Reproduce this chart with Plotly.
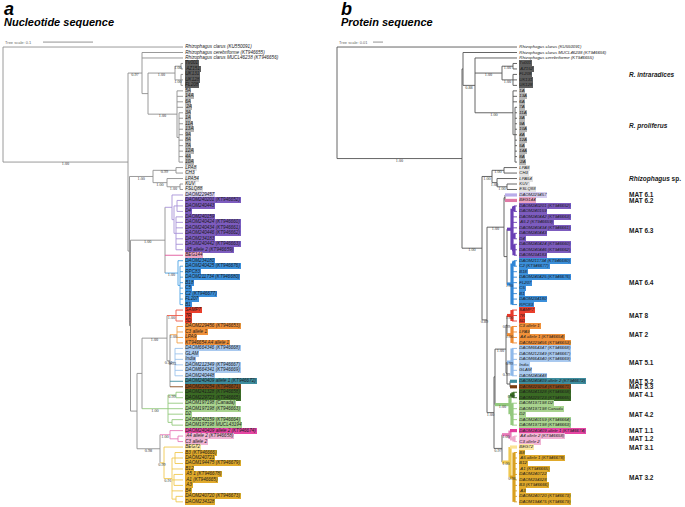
import plotly.graph_objects as go

# ---------------- data ----------------
SCALE_A = 0.1    # tree scale bar, panel a (substitutions/site)
SCALE_B = 0.01   # tree scale bar, panel b

LEAVES_A = [
    "Rhizophagus clarus (KU550091)", "Rhizophagus cerebriforme (KT946655)",
    "Rhizophagus clarus MUCL46238 (KT946656)",
    "Tv001", "AZ151", "UK131", "UK128", "FL208",
    "5A", "14A", "6A", "2A", "3A", "1A", "11A", "13A", "9A", "8A", "7A", "12A", "4A", "10A",
    "LPA8", "CH3", "LPA54", "KUV", "FSLQ88",
    "DAOM229457", "DAOM240201 (KT946652)", "DAOM240443", "D4", "DAOM240159",
    "DAOM240424 (KT946660)", "DAOM240434 (KT946661)", "DAOM240446 (KT946662)", "DAOM234183",
    "DAOM240442 (KT946663)", "A5 allele 2 (KT946659)",
    "BEG144",
    "DAOM234180", "DAOM240425 (KT946676)", "RPC83", "DAOM211734 (KT946680)", "B18", "C5",
    "C2 (KT946677)", "FL207", "B1",
    "SAMP7", "7R", "5D",
    "DAOM229456 (KT946653)", "C3 allele 1", "LPA9", "KT946654 A4 allele 1",
    "DAOM664346 (KT946668)", "GLAM", "India", "DAOM212349 (KT946667)", "DAOM664341 (KT946669)",
    "DAOM240448",
    "DAOM240409 allele 1 (KT946672)", "DAOM229254 (KT946671)",
    "DAOM241328 (KT946658)", "DAOM229723 (KT946665)",
    "DAOM197198 (Canada)", "DAOM197198 (KT946663)", "D2", "DAOM240159 (KT946664)",
    "DAOM197198 MUCL43194",
    "DAOM240409 allele 2 (KT946674)", "A4 allele 2 (KT946658)", "C3 allele 2",
    "BEG72",
    "B3 (KT946666)", "DAOM240721", "DAOM194475 (KT946679)", "B12", "A5 1 (KT946678)",
    "A1 (KT946665)", "A3", "B4", "DAOM240720 (KT946673)", "DAOM234328",
]

LEAVES_B = [
    "Rhizophagus clarus (KU550091)", "Rhizophagus clarus MUCL46238 (KT946656)",
    "Rhizophagus cerebriforme (KT946655)",
    "Tv001", "AZ152", "FL208", "UK131", "UK128",
    "1A", "13A", "6A", "7A", "11A", "3A", "9A", "10A", "4A", "12A", "5A", "14A", "8A", "2A",
    "LPA8", "CH3", "LPA54", "KUV", "ESLQ88",
    "DAOM229457", "BEG144",
    "DAOM240201 (KT946652)", "DAOM240159", "DAOM240442 (KT946663)", "A5 2 (KT946659)",
    "DAOM240434 (KT946661)", "DAOM240443", "D4", "DAOM240424 (KT946660)",
    "DAOM240446 (KT946662)", "DAOM234183",
    "DAOM211734 (KT946680)", "C2 (KT946677)", "B18", "DAOM240425 (KT946676)", "FL207", "C5",
    "B1", "DAOM234180", "RPC83",
    "SAMP7", "7R", "5D",
    "C3 allele 1", "LPA9", "A4 allele 1 (KT946654)", "DAOM229456 (KT946653)",
    "DAOM664347 (KT946668)", "DAOM212349 (KT946667)", "DAOM664340 (KT946669)", "India", "GLAM",
    "DAOM240448",
    "DAOM240409 allele 2 (KT946672)", "DAOM229254 (KT946671)",
    "DAOM241328 (KT946658)", "DAOM229723 (KT946665)",
    "DAOM197198 D2", "DAOM197198 Canada", "D2", "DAOM240159 (KT946664)", "DAOM197198 (KT946663)",
    "DAOM240409 allele 1 (KT946674)", "A4 allele 2 (KT946658)", "C3 allele 2",
    "BEG72",
    "B8", "A5 allele 1 (KT946678)", "B12", "A1 (KT946665)", "DAOM240722", "DAOM234328",
    "B3 (KT946666)", "A3", "DAOM240720 (KT946673)", "DAOM194475 (KT946679)",
]

GROUPS_A = (["out"] * 3 + ["intra"] * 5 + ["prolif"] * 14 + ["rsp"] * 5 + ["m61"] + ["m63"] * 10
            + ["m62"] + ["m64"] * 9 + ["m8"] * 3 + ["m2"] * 4 + ["m51"] * 6 + ["m52"] + ["m53"]
            + ["m41"] * 2 + ["m42"] * 5 + ["m11"] + ["m12"] * 2 + ["m31"] + ["m32"] * 10)
GROUPS_B = (["out"] * 3 + ["intra"] * 5 + ["prolif"] * 14 + ["rsp"] * 5 + ["m61"] + ["m62"]
            + ["m63"] * 10 + ["m64"] * 9 + ["m8"] * 3 + ["m2"] * 4 + ["m51"] * 6 + ["m52"] + ["m53"]
            + ["m41"] * 2 + ["m42"] * 5 + ["m11"] + ["m12"] * 2 + ["m31"] + ["m32"] * 10)

# label highlight colours
GROUP_BG = {
    "out": None, "intra": "#5e5e5e", "prolif": "#b4b4b4", "rsp": "#e3e3e3",
    "m61": "#d6cff0", "m62": "#eaa4c2", "m63": "#7d5cbf", "m64": "#3b8fda",
    "m8": "#ea3f2c", "m2": "#f0913a", "m51": "#a9c9ef", "m52": "#3f8d9e",
    "m53": "#8a4a18", "m41": "#3a6a24", "m42": "#a9d38f", "m11": "#e546a3",
    "m12": "#f1b4d4", "m31": "#fbe7a2", "m32": "#e0a92b",
}
FAMILY = {"m61": "purple", "m63": "purple", "m62": "pink", "m64": "blue", "m8": "red",
          "m2": "orange", "m51": "lblue", "m52": "teal", "m53": "brown", "m41": "green",
          "m42": "green", "m11": "magenta", "m12": "magenta", "m31": "yellow", "m32": "yellow"}
FAMILY_LINE = {"purple": "#a893d8", "pink": "#e0559a", "blue": "#4aa2e4", "red": "#ee5a48",
               "orange": "#f2a048", "lblue": "#9cc3ec", "teal": "#3f8d9e", "brown": "#8a4a18",
               "green": "#93c97d", "magenta": "#e87ab9", "yellow": "#f0c850"}
GROUP_LINE_B = {"m61": "#b9acea", "m62": "#e07aa6", "m63": "#6a3fb5", "m64": "#2f86d6",
                "m8": "#e8392a", "m2": "#ef8a30", "m51": "#8fb9ea", "m52": "#3f8d9e",
                "m53": "#7a3d10", "m41": "#356b20", "m42": "#93c97d", "m11": "#e23a9c",
                "m12": "#efa8cb", "m31": "#fbe393", "m32": "#d9a020"}

CLADE_LABELS_B = [
    ("<i>R. intraradices</i>", "intra"), ("<i>R. proliferus</i>", "prolif"),
    ("<i>Rhizophagus</i> sp.", "rsp"), ("MAT 6.1", "m61"), ("MAT 6.2", "m62"),
    ("MAT 6.3", "m63"), ("MAT 6.4", "m64"), ("MAT 8", "m8"), ("MAT 2", "m2"),
    ("MAT 5.1", "m51"), ("MAT 5.2", "m52"), ("MAT 5.3", "m53"), ("MAT 4.1", "m41"),
    ("MAT 4.2", "m42"), ("MAT 1.1", "m11"), ("MAT 1.2", "m12"), ("MAT 3.1", "m31"),
    ("MAT 3.2", "m32"),
]

# ---- panel a topology ('@' = next leaf of LEAVES_A), support values and branch lengths ----
A_INTRA = "((@:0.004,@:0.004)1.00:0.012,(@:0.004,@:0.004,@:0.004)1.00:0.012)1.00:0.054"
A_PROLIF = ("(@:0.012,@:0.012,@:0.012,@:0.012,(@:0.008,@:0.008,@:0.008,@:0.008,@:0.008,"
            "@:0.008,@:0.008,@:0.008,@:0.008,@:0.008):0.004)1.00:0.058")
A_RSP = "((@:0.014,@:0.014)0.99:0.046,(@:0.032,(@:0.006,@:0.006)1.00:0.026)1.00:0.028)1.00:0.047"
A_MAT6 = ("((@:0.022,((@:0.012,@:0.012,@:0.012):0.006,(@:0.014,@:0.014,@:0.014,@:0.014,@:0.014,"
          "@:0.014,@:0.014):0.004):0.004):0.014,@:0.036,(@:0.01,(@:0.006,@:0.006,@:0.006,@:0.006,"
          "@:0.006,@:0.006,@:0.006,@:0.006):0.004)1.00:0.026)1.00:0.069")
A_MAT825 = ("((@:0.014,@:0.014,@:0.014)1.00:0.018,((@:0.012,@:0.012,@:0.012,@:0.012)1.00:0.014,"
            "(@:0.016,@:0.016,@:0.016,@:0.016,@:0.016,@:0.016)0.93:0.01,@:0.026,@:0.026)0.94:0.006)1.00:0.05")
A_MAT4 = "((@:0.014,@:0.014)0.99:0.016,@:0.03,@:0.03,@:0.03,(@:0.022,@:0.022):0.008)1.00:0.052"
A_MAT13 = ("((@:0.026,(@:0.01,@:0.01):0.016)1.00:0.02,(@:0.038,((@:0.016,@:0.016,@:0.016):0.006,"
           "@:0.022,(@:0.018,@:0.018,@:0.018):0.004,@:0.022,(@:0.014,@:0.014):0.008)0.91:0.016)0.99:0.008)0.98:0.046")
TREE_A = (f"(@:0.36,((@:0.082,@:0.082,({A_INTRA},{A_PROLIF}):0.012)0.97:0.028,"
          f"({A_RSP},({A_MAT6},(({A_MAT825},{A_MAT4}):0.01,{A_MAT13}):0.013):0.002):0.003)1.00:0.25)")

# ---- panel b topology ----
B_INTRA = "((@:0.004,@:0.004)1.00:0.011,(@:0.004,@:0.004,@:0.004)1.00:0.011)1.00:0.027"
B_PROLIF = ("(@:0.004,@:0.004,@:0.004,(@:0.002,@:0.002,@:0.002,@:0.002,@:0.002,@:0.002,@:0.002,"
            "@:0.002,@:0.002,@:0.002,@:0.002):0.002)1.00:0.038")
B_RSP = "((@:0.013,@:0.013)1.00:0.012,(@:0.02,(@:0.01,@:0.01)1.00:0.01)1.00:0.005)1.00:0.01"
B_MAT6 = ("((@:0.012,@:0.012):0.001,(((@:0.003,@:0.003):0.002,@:0.005,@:0.005,@:0.005,"
          "(@:0.003,@:0.003):0.002,(@:0.003,@:0.003,@:0.003):0.002):0.005,((@:0.003,@:0.003):0.002,"
          "@:0.005,@:0.005,@:0.005,@:0.005,@:0.005,@:0.005,@:0.005)1.00:0.005):0.003)1.00:0.017")
B_MATMID = ("((((@:0.005,@:0.005,@:0.005)1.00:0.005,(@:0.005,@:0.005,@:0.005,@:0.005)1.00:0.005)0.99:0.001,"
            "((@:0.005,@:0.005,@:0.005,@:0.005,@:0.005,@:0.005)0.99:0.005,(@:0.007,@:0.007):0.003)0.99:0.001)1.00:0.011,"
            "((@:0.004,@:0.004)0.97:0.003,(@:0.005,@:0.005,@:0.005,@:0.005,@:0.005):0.002)1.00:0.015):0.001")
B_MAT13 = ("((@:0.007,(@:0.003,@:0.003):0.004)1.00:0.008,(@:0.007,(@:0.003,@:0.003,@:0.003,@:0.003,"
           "@:0.003,@:0.003,@:0.003,@:0.003,@:0.003,@:0.003)0.98:0.004)1.00:0.008)0.97:0.008")
TREE_B = (f"(@:0.18,((@:0.054,(@:0.042,{B_INTRA},{B_PROLIF})0.88:0.012):0.001,"
          f"({B_RSP},({B_MAT6},({B_MATMID},{B_MAT13})1.00:0.007)0.89:0.005)1.00:0.02)1.00:0.125)")


# ---------------- tree helpers ----------------
def parse_newick(text, names):
    s = "".join(text.split())
    pos = 0
    it = iter(names)

    def node():
        nonlocal pos
        n = {"kids": [], "len": 0.0, "sup": "", "name": None}
        if s[pos] == "(":
            pos += 1
            while True:
                n["kids"].append(node())
                c = s[pos]
                pos += 1
                if c == ")":
                    break
            st = pos
            while pos < len(s) and s[pos] not in ":,);":
                pos += 1
            n["sup"] = s[st:pos]
        else:
            pos += 1
            n["name"] = next(it)
        if pos < len(s) and s[pos] == ":":
            pos += 1
            st = pos
            while pos < len(s) and s[pos] not in ",);":
                pos += 1
            n["len"] = float(s[st:pos])
        return n

    return node()


def layout_tree(root, groups):
    nodes, leaves = [], []

    def rec(n, x0, parent):
        n["x"] = x0 + n["len"]
        n["parent"] = parent
        nodes.append(n)
        if n["kids"]:
            for k in n["kids"]:
                rec(k, n["x"], n)
            n["y"] = (n["kids"][0]["y"] + n["kids"][-1]["y"]) / 2
            n["groups"] = set().union(*[k["groups"] for k in n["kids"]])
        else:
            i = len(leaves)
            n["y"] = i
            n["groups"] = {groups[i]}
            leaves.append(n)

    rec(root, -root["len"], None)
    return nodes, leaves


def style(n, panel, groups):
    fams = {FAMILY.get(g) for g in n["groups"]}
    if len(fams) != 1 or None in fams:
        return ("#8e8e8e", 0.9) if panel == "a" else ("#555555", 0.9)
    fam = next(iter(fams))
    if panel == "a":
        return FAMILY_LINE[fam], 0.9
    if len(n["groups"]) == 1:
        g = next(iter(n["groups"]))
        col = GROUP_LINE_B[g]
    else:
        col = FAMILY_LINE[fam]
    thick = bool(n["kids"]) or groups.count(next(iter(n["groups"]))) == 1
    return col, (3.2 if thick else 0.9)


fig = go.Figure()
annotations = []

PANELS = [("a", TREE_A, LEAVES_A, GROUPS_A, "x", 4.6),
          ("b", TREE_B, LEAVES_B, GROUPS_B, "x2", 4.3)]

for panel, tree, names, groups, xa, fsize in PANELS:
    root = parse_newick(tree, names)
    nodes, leaves = layout_tree(root, groups)
    segs = {}
    for n in nodes:
        col, w = style(n, panel, groups)
        xs, ys = segs.setdefault((col, w), ([], []))
        if n["parent"] is not None:
            xs += [n["parent"]["x"], n["x"], None]
            ys += [n["y"], n["y"], None]
        if n["kids"]:
            xs += [n["x"], n["x"], None]
            ys += [n["kids"][0]["y"], n["kids"][-1]["y"], None]
    for (col, w), (xs, ys) in sorted(segs.items(), key=lambda kv: kv[0][1]):
        fig.add_trace(go.Scatter(x=xs, y=ys, mode="lines", xaxis=xa, yaxis="y",
                                 line=dict(color=col, width=w), hoverinfo="skip",
                                 showlegend=False))
    # support values
    sx, sy, st = [], [], []
    for n in nodes:
        if n["sup"] and n["parent"] is not None:
            sx.append((n["parent"]["x"] + n["x"]) / 2)
            sy.append(n["y"])
            st.append(n["sup"])
    fig.add_trace(go.Scatter(x=sx, y=sy, text=st, mode="text", textposition="bottom center",
                             xaxis=xa, yaxis="y", hoverinfo="skip", showlegend=False,
                             textfont=dict(family="Liberation Serif", size=4.2, color="#333333")))
    # leaf labels
    for lf in leaves:
        g = groups[lf["y"]]
        bg = GROUP_BG[g]
        annotations.append(dict(
            x=lf["x"], y=lf["y"], xref=xa, yref="y", text="<i>" + lf["name"] + "</i>",
            showarrow=False, xanchor="left", yanchor="middle", xshift=1.5,
            font=dict(family="Liberation Sans", size=fsize, color="#1a1a1a"),
            bgcolor=bg if bg else "rgba(0,0,0,0)", borderpad=0.3, borderwidth=0))
    if panel == "b":
        for text, g in CLADE_LABELS_B:
            idx = [i for i, gg in enumerate(groups) if gg == g]
            annotations.append(dict(
                x=0.29, y=sum(idx) / len(idx), xref=xa, yref="y", text="<b>" + text + "</b>",
                showarrow=False, xanchor="left", yanchor="middle",
                font=dict(family="Liberation Sans", size=6.5, color="#1a1a1a")))

# tree scale bars
for xa, scale, x0, txt in [("x", SCALE_A, 0.08, "Tree scale: 0.1"),
                            ("x2", SCALE_B, 0.036, "Tree scale: 0.01")]:
    fig.add_trace(go.Scatter(x=[x0, x0 + scale], y=[-0.9, -0.9], mode="lines", xaxis=xa,
                             yaxis="y", line=dict(color="#666666", width=0.7),
                             hoverinfo="skip", showlegend=False))
    annotations.append(dict(x=0, y=-0.9, xref=xa, yref="y", text=txt, showarrow=False,
                            xanchor="left", yanchor="middle",
                            font=dict(family="Liberation Sans", size=4, color="#666666")))

# panel titles
for xp, letter, title in [(2, "a", "Nucleotide sequence"), (339, "b", "Protein sequence")]:
    annotations.append(dict(x=xp / 685, y=1 - 9 / 507, xref="paper", yref="paper",
                            text="<b><i>" + letter + "</i></b>", showarrow=False,
                            xanchor="left", yanchor="middle",
                            font=dict(family="Liberation Sans", size=18, color="#000000")))
    annotations.append(dict(x=xp / 685, y=1 - 22 / 507, xref="paper", yref="paper",
                            text="<b><i>" + title + "</i></b>", showarrow=False,
                            xanchor="left", yanchor="middle",
                            font=dict(family="Liberation Sans", size=11, color="#000000")))

fig.update_layout(
    width=685, height=507, margin=dict(l=0, r=0, t=0, b=0),
    paper_bgcolor="white", plot_bgcolor="white", showlegend=False,
    xaxis=dict(domain=[0, 335 / 685], range=[-0.006, 0.664], visible=False),
    xaxis2=dict(domain=[335 / 685, 1], range=[-0.002, 0.348], visible=False, anchor="y"),
    yaxis=dict(domain=[0, 1], range=[83.94, -8.58], visible=False),
    annotations=annotations,
)

fig.write_html("out.html", config={"displayModeBar": False},
               post_script="document.body.style.margin='0px';")
